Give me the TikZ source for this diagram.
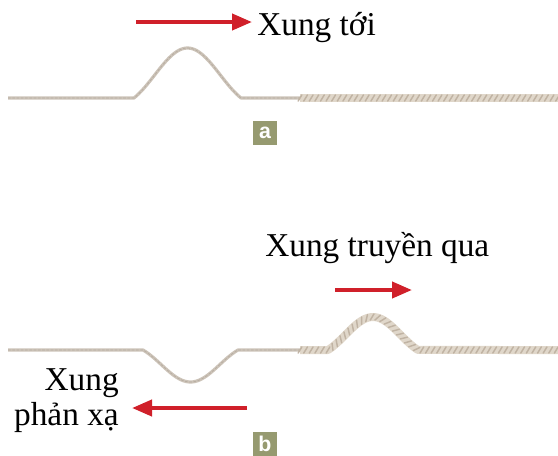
\documentclass[tikz,border=0pt]{standalone}
\usepackage{fontspec}
\setmainfont{Liberation Serif}
\newfontfamily\tagfont{Liberation Sans}
\usetikzlibrary{arrows.meta,decorations.markings}
\definecolor{ropethin}{RGB}{204,195,184}
\definecolor{ropethinedge}{RGB}{184,174,162}
\definecolor{ropethick}{RGB}{224,215,202}
\definecolor{ropedark}{RGB}{192,179,163}
\definecolor{pulsered}{RGB}{208,32,42}
\definecolor{tagfill}{RGB}{150,154,112}
% pulse profile on [0,1]: half sine blended with a raised cosine
\tikzset{declare function={bump(\t)=0.55*sin(180*\t)+0.45*(1-cos(360*\t))/2;}}
\tikzset{
  thinrope/.style={draw=ropethin, line width=2.4pt, line join=round},
  thinropetex/.style={draw=ropethinedge, line width=0.6pt, dash pattern=on 2pt off 1.2pt},
  thickrope/.style={draw=ropethick, line width=6pt, line join=round},
  twist/.style={decorate, decoration={markings,
      mark=between positions 0 and 1 step 4.2pt with
      {\draw[ropedark, line width=1.1pt, line cap=round] (-1.4pt,-2.3pt) -- (1.4pt,2.3pt);}}},
  pulsearrow/.style={draw=pulsered, line width=3pt,
      -{Triangle[length=15pt,width=12pt]}},
  caption/.style={font=\fontsize{25}{30}\selectfont, inner sep=0pt},
  tagbox/.style={fill=tagfill, minimum size=18pt, inner sep=0pt,
      text=white, font=\tagfont\bfseries\fontsize{16}{16}\selectfont}
}
\begin{document}
\begin{tikzpicture}[x=0.75pt,y=-0.75pt]
\useasboundingbox (0,0) rectangle (558,455);

% ---------- (a) incident pulse ----------
\path[thinrope] (8,98) -- (134,98)
  -- plot[domain=0:1,samples=50] ({134+107*\x},{98-50*bump(\x)})
  -- (300,98);
\path[thinropetex] (8,98) -- (134,98)
  -- plot[domain=0:1,samples=50] ({134+107*\x},{98-50*bump(\x)})
  -- (300,98);
\path[thickrope] (300,98) -- (558,98);
\path[twist] (300,98) -- (558,98);

\coordinate (inTail) at (136,22);
\coordinate (inHead) at (252,22);
\draw[pulsearrow] (inTail) -- (inHead);
\node[caption, anchor=base west] (incident) at (257,35) {Xung tới};
\node[tagbox] (taga) at (265,132.5) {a};

% ---------- (b) reflected and transmitted pulses ----------
\path[thinrope] (8,350) -- (143,350)
  -- plot[domain=0:1,samples=50] ({143+95*\x},{350+32*bump(\x)})
  -- (300,350);
\path[thinropetex] (8,350) -- (143,350)
  -- plot[domain=0:1,samples=50] ({143+95*\x},{350+32*bump(\x)})
  -- (300,350);
\path[thickrope] (300,350) -- (328,350)
  -- plot[domain=0:1,samples=50] ({328+90*\x},{350-33*bump(\x)})
  -- (558,350);
\path[twist] (300,350) -- (328,350)
  -- plot[domain=0:1,samples=50] ({328+90*\x},{350-33*bump(\x)})
  -- (558,350);

\node[caption, anchor=base west] (transmitted) at (265,256) {Xung truyền qua};
\coordinate (trTail) at (335,290);
\coordinate (trHead) at (412,290);
\draw[pulsearrow] (trTail) -- (trHead);

\node[caption, anchor=base east] (reflA) at (119,390) {Xung};
\node[caption, anchor=base east] (reflB) at (119,425) {phản xạ};
\coordinate (rfTail) at (247,408);
\coordinate (rfHead) at (132,408);
\draw[pulsearrow] (rfTail) -- (rfHead);

\node[tagbox] (tagb) at (265,444) {b};
\end{tikzpicture}
\end{document}
